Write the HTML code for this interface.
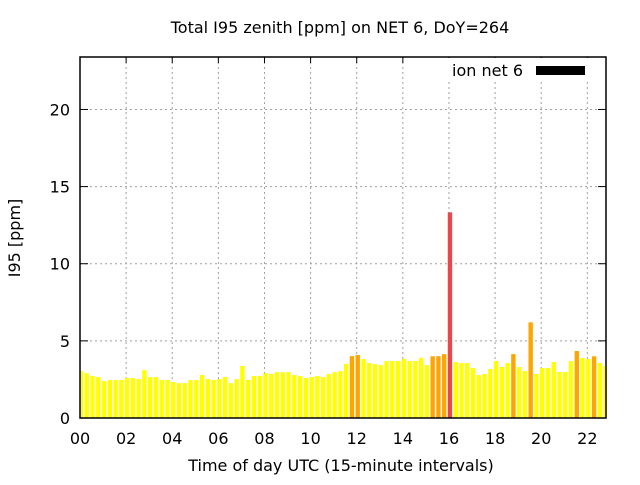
<!DOCTYPE html>
<html><head><meta charset="utf-8"><style>
html,body{margin:0;padding:0;background:#fff}
svg text{font-family:"DejaVu Sans","Liberation Sans",sans-serif;font-size:16px;fill:#000}
</style></head><body>
<svg id="chart" width="640" height="480" xmlns="http://www.w3.org/2000/svg">
<rect x="0" y="0" width="640" height="480" fill="#fff"/>
<text x="340" y="33" text-anchor="middle">Total I95 zenith [ppm] on NET 6, DoY=264</text>
<g id="grid"></g>
<defs><clipPath id="pc"><rect x="80" y="57" width="526" height="362"/></clipPath></defs>
<g id="bars" clip-path="url(#pc)"></g>
<g id="axes"></g>
<text x="341" y="471" text-anchor="middle">Time of day UTC (15-minute intervals)</text>
<text transform="translate(20,238) rotate(-90)" text-anchor="middle">I95 [ppm]</text>
<g>
<rect x="446" y="58" width="152" height="24" fill="#fff"/>
<text x="523" y="76" text-anchor="end">ion net 6</text>
<rect x="536" y="66" width="49" height="9" fill="#000"/>
</g>
</svg>
<script>
const values = [3.04,2.9,2.72,2.65,2.39,2.46,2.46,2.46,2.59,2.59,2.52,3.1,2.65,2.65,2.46,2.46,2.33,2.26,2.26,2.46,2.46,2.78,2.52,2.46,2.52,2.65,2.26,2.52,3.37,2.46,2.72,2.72,2.9,2.85,2.97,2.97,2.97,2.78,2.72,2.59,2.65,2.72,2.65,2.85,2.97,3.04,3.51,4.01,4.08,3.82,3.56,3.49,3.43,3.69,3.69,3.69,3.82,3.69,3.69,3.9,3.43,4.0,4.01,4.14,13.33,3.62,3.56,3.56,3.24,2.78,2.85,3.17,3.69,3.3,3.56,4.14,3.3,3.04,6.2,2.85,3.24,3.24,3.62,2.98,2.98,3.69,4.34,3.88,3.82,4.0,3.56,3.37];
const yTicks = [0,5,10,15,20];
const xTickHours = [0,2,4,6,8,10,12,14,16,18,20,22];
const xTickLabels = ["00","02","04","06","08","10","12","14","16","18","20","22"];
const X0=80,X1=606,Y0=418,YT=57;
const hMax=22.81, vMax=23.4;
function x(h){return X0+h/hMax*(X1-X0);}
function y(v){return Y0-v/vMax*(Y0-YT);}
const NS="http://www.w3.org/2000/svg";
function mk(tag,attrs,parent){const e=document.createElementNS(NS,tag);for(const k in attrs)e.setAttribute(k,attrs[k]);parent.appendChild(e);return e;}
const grid=document.getElementById('grid'),bars=document.getElementById('bars'),axes=document.getElementById('axes');
yTicks.forEach(v=>{
  if(v>0){const l=mk('line',{x1:X0,x2:X1,y1:y(v),y2:y(v),stroke:'#a0a0a0','stroke-dasharray':'2,3'},grid);
  
  }
  const t=mk('text',{x:70,y:y(v)+6,'text-anchor':'end'},axes);t.textContent=v;
  
  
  mk('line',{x1:X0,x2:X0+8,y1:y(v),y2:y(v),stroke:'#000'},axes);
  mk('line',{x1:X1,x2:X1-8,y1:y(v),y2:y(v),stroke:'#000'},axes);
});
xTickHours.forEach((h,i)=>{
  if(h>0){const l=mk('line',{x1:x(h),x2:x(h),y1:YT,y2:Y0,stroke:'#a0a0a0','stroke-dasharray':'2,3'},grid);
  
  }
  const t=mk('text',{x:x(h),y:444,'text-anchor':'middle'},axes);t.textContent=xTickLabels[i];
  
  
  mk('line',{x1:x(h),x2:x(h),y1:YT,y2:YT+6,stroke:'#000'},axes);
});
const bw=x(0.19)-x(0);
values.forEach((v,i)=>{
  const h=i*0.25;
  const c=v>10?'#e8484a':(v>=3.98?'#ffa500':'#ffff00');
  const r=mk('rect',{x:x(h)-bw/2+1,y:y(v),width:bw,height:Y0-y(v),fill:c},bars);
  
  
});
const f=mk('rect',{x:X0,y:YT,width:X1-X0,height:Y0-YT,fill:'none',stroke:'#000','stroke-width':1.5},axes);


</script>
</body></html>
